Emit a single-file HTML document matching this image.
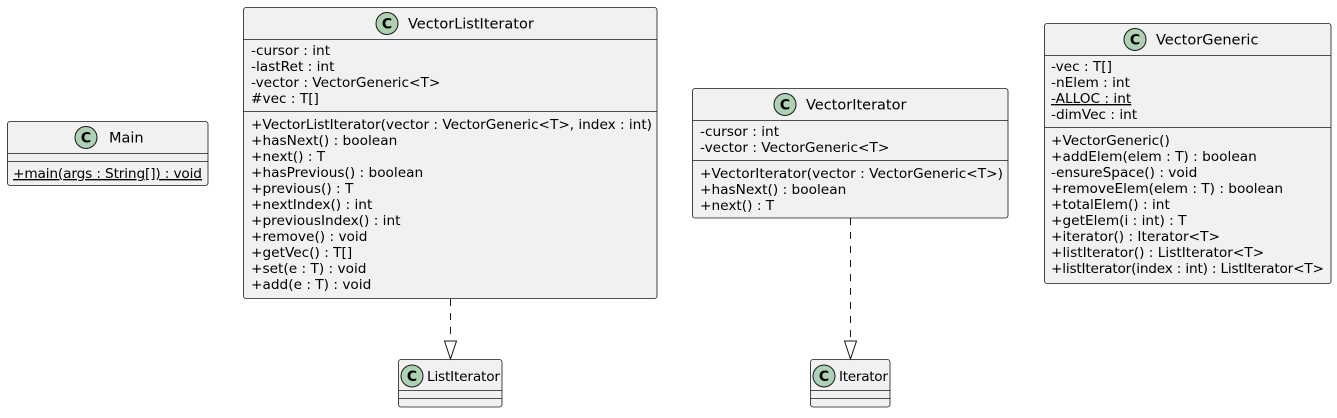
<!DOCTYPE html>
<html><head><style>
html,body{margin:0;padding:0;background:#fff;}
svg text{font-family:"DejaVu Sans","Liberation Sans",sans-serif;fill:#000;}
.m{font-size:13.7px;}
.h{font-size:14.5px;}
.b{fill:#F1F1F1;stroke:#181818;stroke-width:0.8;}
.l{stroke:#181818;stroke-width:0.8;}
.c{fill:#ADD1B2;stroke:#181818;stroke-width:1;}
.cl{font-size:14px;font-weight:bold;}
</style></head><body>
<svg width="1337" height="413" viewBox="0 0 1337 413" xmlns="http://www.w3.org/2000/svg">
<!-- Main -->
<rect class="b" x="7.5" y="121.5" width="200.5" height="64" rx="2.5"/>
<line class="l" x1="7.5" y1="153.5" x2="208" y2="153.5"/>
<line class="l" x1="7.5" y1="161.5" x2="208" y2="161.5"/>
<circle class="c" cx="86" cy="137.5" r="11"/>
<text class="cl" x="86" y="142.5" text-anchor="middle">C</text>
<text class="h" x="109" y="142.5">Main</text>
<text class="m" x="13" y="178" text-decoration="underline" textLength="189">+main(args : String[]) : void</text>

<!-- VectorListIterator -->
<rect class="b" x="243.5" y="7.5" width="413.5" height="291" rx="2.5"/>
<line class="l" x1="243.5" y1="39.5" x2="657" y2="39.5"/>
<line class="l" x1="243.5" y1="111.5" x2="657" y2="111.5"/>
<circle class="c" cx="387" cy="23.5" r="11"/>
<text class="cl" x="387" y="28.5" text-anchor="middle">C</text>
<text class="h" x="408" y="28.5">VectorListIterator</text>
<g class="m">
<text x="251" y="55">-cursor : int</text>
<text x="251" y="71">-lastRet : int</text>
<text x="251" y="87">-vector : VectorGeneric&lt;T&gt;</text>
<text x="251" y="103">#vec : T[]</text>
<text x="251" y="129" textLength="401">+VectorListIterator(vector : VectorGeneric&lt;T&gt;, index : int)</text>
<text x="251" y="145">+hasNext() : boolean</text>
<text x="251" y="161">+next() : T</text>
<text x="251" y="177">+hasPrevious() : boolean</text>
<text x="251" y="193">+previous() : T</text>
<text x="251" y="209">+nextIndex() : int</text>
<text x="251" y="225">+previousIndex() : int</text>
<text x="251" y="241">+remove() : void</text>
<text x="251" y="257">+getVec() : T[]</text>
<text x="251" y="273">+set(e : T) : void</text>
<text x="251" y="289">+add(e : T) : void</text>
</g>

<!-- VectorIterator -->
<rect class="b" x="692.5" y="88.5" width="315.5" height="129.5" rx="2.5"/>
<line class="l" x1="692.5" y1="120.5" x2="1008" y2="120.5"/>
<line class="l" x1="692.5" y1="160.5" x2="1008" y2="160.5"/>
<circle class="c" cx="785" cy="104.5" r="11"/>
<text class="cl" x="785" y="109.5" text-anchor="middle">C</text>
<text class="h" x="806" y="109.5">VectorIterator</text>
<g class="m">
<text x="700" y="136">-cursor : int</text>
<text x="700" y="152">-vector : VectorGeneric&lt;T&gt;</text>
<text x="700" y="178" textLength="303">+VectorIterator(vector : VectorGeneric&lt;T&gt;)</text>
<text x="700" y="194">+hasNext() : boolean</text>
<text x="700" y="210">+next() : T</text>
</g>

<!-- VectorGeneric -->
<rect class="b" x="1044.5" y="23.5" width="286.5" height="260" rx="2.5"/>
<line class="l" x1="1044.5" y1="55.5" x2="1331" y2="55.5"/>
<line class="l" x1="1044.5" y1="127.5" x2="1331" y2="127.5"/>
<circle class="c" cx="1135" cy="39.5" r="11"/>
<text class="cl" x="1135" y="44.5" text-anchor="middle">C</text>
<text class="h" x="1156" y="44.5">VectorGeneric</text>
<g class="m">
<text x="1051" y="71">-vec : T[]</text>
<text x="1051" y="87">-nElem : int</text>
<text x="1051" y="103" text-decoration="underline">-ALLOC : int</text>
<text x="1051" y="119">-dimVec : int</text>
<text x="1051" y="145">+VectorGeneric()</text>
<text x="1051" y="161">+addElem(elem : T) : boolean</text>
<text x="1051" y="177">-ensureSpace() : void</text>
<text x="1051" y="193">+removeElem(elem : T) : boolean</text>
<text x="1051" y="209">+totalElem() : int</text>
<text x="1051" y="225">+getElem(i : int) : T</text>
<text x="1051" y="241">+iterator() : Iterator&lt;T&gt;</text>
<text x="1051" y="257">+listIterator() : ListIterator&lt;T&gt;</text>
<text x="1051" y="273" textLength="273">+listIterator(index : int) : ListIterator&lt;T&gt;</text>
</g>

<!-- ListIterator -->
<rect class="b" x="398.5" y="359.5" width="103.5" height="47.5" rx="2.5"/>
<line class="l" x1="398.5" y1="390.5" x2="502" y2="390.5"/>
<line class="l" x1="398.5" y1="398.5" x2="502" y2="398.5"/>
<circle class="c" cx="412" cy="376" r="11"/>
<text class="cl" x="412" y="381" text-anchor="middle">C</text>
<text class="m" x="427" y="381" textLength="73">ListIterator</text>

<!-- Iterator -->
<rect class="b" x="810.5" y="359.5" width="79.5" height="47.5" rx="2.5"/>
<line class="l" x1="810.5" y1="390.5" x2="890" y2="390.5"/>
<line class="l" x1="810.5" y1="398.5" x2="890" y2="398.5"/>
<circle class="c" cx="824" cy="376" r="11"/>
<text class="cl" x="824" y="381" text-anchor="middle">C</text>
<text class="m" x="839" y="381" textLength="49">Iterator</text>

<!-- arrows -->
<line x1="450.5" y1="299" x2="450.5" y2="341" stroke="#181818" stroke-width="1" stroke-dasharray="7,7"/>
<polygon points="444.5,341 456.5,341 450.5,359" fill="none" stroke="#181818" stroke-width="1"/>
<line x1="850.5" y1="218" x2="850.5" y2="341" stroke="#181818" stroke-width="1" stroke-dasharray="7,7"/>
<polygon points="844.5,341 856.5,341 850.5,359" fill="none" stroke="#181818" stroke-width="1"/>
</svg>
</body></html>
